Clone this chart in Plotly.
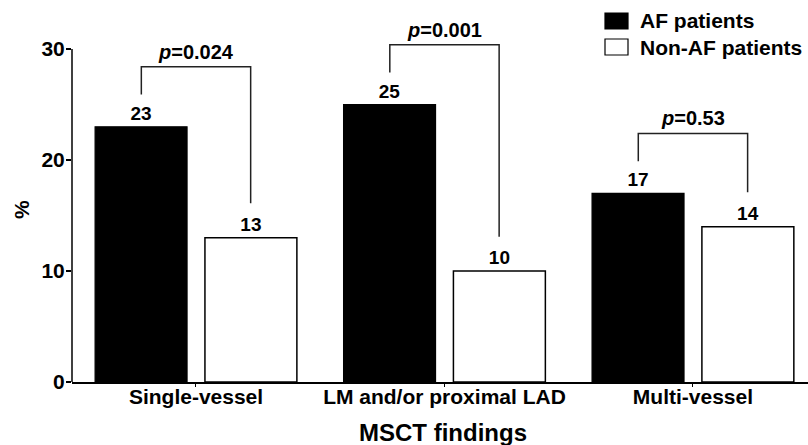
import plotly.graph_objects as go

categories = ["Single-vessel", "LM and/or proximal LAD", "Multi-vessel"]
af_values = [23, 25, 17]
non_af_values = [13, 10, 14]
p_labels = ["<i>p</i>=0.024", "<i>p</i>=0.001", "<i>p</i>=0.53"]
series_names = ["AF patients", "Non-AF patients"]
y_ticks = [0, 10, 20, 30]

FONT = "Liberation Sans"
x_pos = list(range(len(categories)))
BAR_W = 0.37
HALF = 0.22
Y_TOP = 31
PLOT_TOP_PX, PLOT_BOT_PX, PLOT_L_PX, PLOT_R_PX = 38, 382, 72, 808


def px_y(py):
    return (PLOT_BOT_PX - py) / (PLOT_BOT_PX - PLOT_TOP_PX)


def px_x(px):
    return (px - PLOT_L_PX) / (PLOT_R_PX - PLOT_L_PX)


fig = go.Figure()
fig.add_trace(go.Bar(
    x=x_pos, y=af_values, width=BAR_W, offset=-0.406,
    marker=dict(color="black", line=dict(color="black", width=1.2)),
    text=[str(v) for v in af_values], textposition="outside",
    textfont=dict(family=FONT, size=19, color="black", weight="bold"),
    cliponaxis=False, name=series_names[0], showlegend=False))
fig.add_trace(go.Bar(
    x=x_pos, y=non_af_values, width=BAR_W, offset=0.036,
    marker=dict(color="white", line=dict(color="black", width=1.5)),
    text=[str(v) for v in non_af_values], textposition="outside",
    textfont=dict(family=FONT, size=19, color="black", weight="bold"),
    cliponaxis=False, name=series_names[1], showlegend=False))

# significance brackets
for i, (a, n, p) in enumerate(zip(af_values, non_af_values, p_labels)):
    top = max(a, n) + 5.4
    xs = [i - HALF, i - HALF, i + HALF, i + HALF]
    ys = [a + 2.9, top, top, n + 3.1]
    fig.add_trace(go.Scatter(x=xs, y=ys, mode="lines",
                             line=dict(color="#222", width=1.5),
                             cliponaxis=False, showlegend=False, hoverinfo="skip"))
    fig.add_annotation(x=i, y=top, text=p, showarrow=False, yanchor="bottom",
                       yshift=2, font=dict(family=FONT, size=20, color="black", weight="bold"))

# y axis line only from 0 to 30
fig.add_shape(type="line", xref="paper", yref="y", x0=0, x1=0, y0=0, y1=30,
              line=dict(color="black", width=1.5))

# manual legend
leg = [("black", series_names[0], 21), ("white", series_names[1], 47)]
for col, name, yc in leg:
    fig.add_shape(type="rect", xref="paper", yref="paper",
                  x0=px_x(605), x1=px_x(628),
                  y0=px_y(yc + 8), y1=px_y(yc - 8),
                  fillcolor=col, line=dict(color="black", width=1.2))
    fig.add_annotation(xref="paper", yref="paper", x=px_x(638),
                       y=px_y(yc), xanchor="left", yanchor="middle",
                       text=name, showarrow=False,
                       font=dict(family=FONT, size=21, color="black", weight="bold"))

# axis titles
fig.add_annotation(xref="paper", yref="paper", x=px_x(21), y=px_y(210),
                   text="%", textangle=-90, showarrow=False,
                   xanchor="center", yanchor="middle",
                   font=dict(family=FONT, size=21, color="black", weight="bold"))
fig.add_annotation(xref="paper", yref="paper", x=px_x(443), y=px_y(432),
                   xanchor="center", yanchor="middle", text="MSCT findings", showarrow=False,
                   font=dict(family=FONT, size=24, color="black", weight="bold"))

fig.update_layout(
    width=808, height=445,
    margin=dict(l=PLOT_L_PX, r=808 - PLOT_R_PX, t=PLOT_TOP_PX, b=445 - PLOT_BOT_PX),
    plot_bgcolor="white", paper_bgcolor="white",
    xaxis=dict(range=[-0.499, 2.463], tickvals=x_pos, ticktext=categories,
               showline=True, linecolor="black", linewidth=1.5,
               ticks="outside", ticklen=3, tickcolor="black", showgrid=False,
               zeroline=False, ticklabelstandoff=-8,
               tickfont=dict(family=FONT, size=21, color="black", weight="bold")),
    yaxis=dict(range=[0, Y_TOP], tickvals=y_ticks, showline=False,
               ticks="outside", ticklen=5, tickcolor="black", tickwidth=1.5,
               showgrid=False, zeroline=False, ticklabelstandoff=-3,
               tickfont=dict(family=FONT, size=21, color="black", weight="bold")),
    showlegend=False,
)

fig.write_html("out.html")
